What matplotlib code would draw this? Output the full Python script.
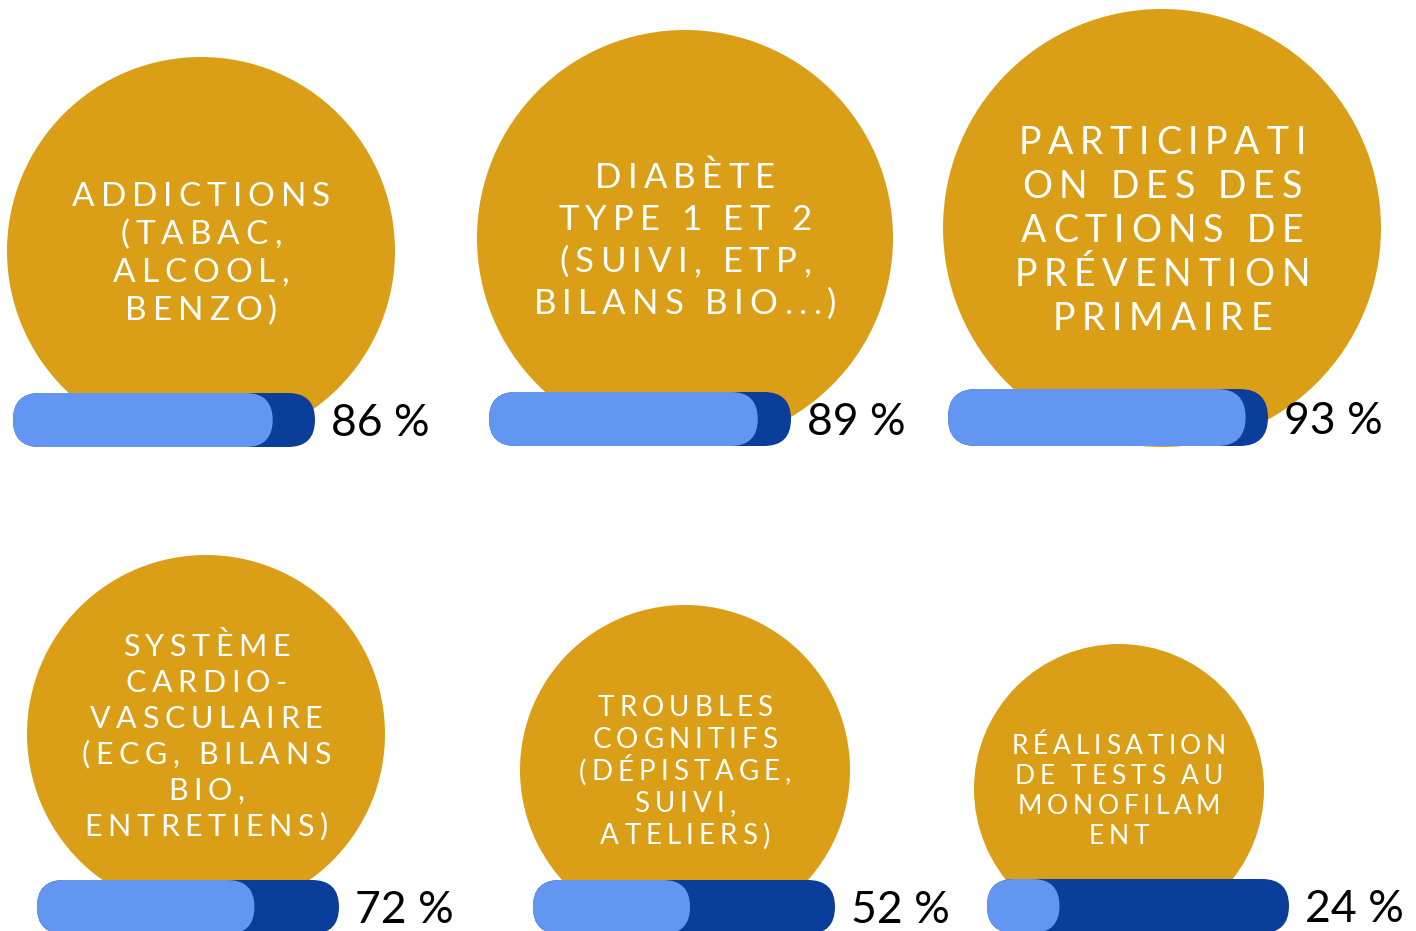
import numpy as np
import matplotlib
matplotlib.use("Agg")
import matplotlib.pyplot as plt
from matplotlib.patches import Circle, FancyBboxPatch
from matplotlib.font_manager import FontProperties
from matplotlib.textpath import TextToPath

# Données
labels = [
    "ADDICTIONS\n(TABAC,\nALCOOL,\nBENZO)",
    "DIABÈTE\nTYPE 1 ET 2\n(SUIVI, ETP,\nBILANS BIO...)",
    "PARTICIPATI\nON DES DES\nACTIONS DE\nPRÉVENTION\nPRIMAIRE",
    "SYSTÈME\nCARDIO-\nVASCULAIRE\n(ECG, BILANS\nBIO,\nENTRETIENS)",
    "TROUBLES\nCOGNITIFS\n(DÉPISTAGE,\nSUIVI,\nATELIERS)",
    "RÉALISATION\nDE TESTS AU\nMONOFILAM\nENT",
]
values = [86, 89, 93, 72, 52, 24]

# Mise en page (pixels)
circ_x = [201, 685, 1162, 206, 685, 1119]
circ_y = [251, 238, 228, 734, 770, 789]
circ_r = [194, 208, 219, 179, 165, 145]
bar_x = [13, 489, 948, 37, 533, 987]
bar_y = [393, 392, 389, 880, 880, 879]
bar_w = [302, 302, 320, 302, 302, 302]
bar_h = [54, 54, 57, 54, 54, 54]
txt_size = [24, 25, 27, 22, 20, 19]
txt_pitch = [38, 42, 44, 36, 32, 30]

GOLD = "#DA9E17"
DARK = "#0A3E9A"
LIGHT = "#6396F1"

W, H = 1416, 931
fig = plt.figure(figsize=(W / 100, H / 100), dpi=100)
ax = fig.add_axes([0, 0, 1, 1])
ax.set_xlim(0, W)
ax.set_ylim(H, 0)
ax.axis("off")

ttp = TextToPath()
PX = 100 / 72


def advance(c, prop):
    # largeur d'avance d'un caractère en pixels
    w1 = ttp.get_text_width_height_descent("|" + c + "|", prop, ismath=False)[0]
    w0 = ttp.get_text_width_height_descent("||", prop, ismath=False)[0]
    return (w1 - w0) * PX


def spaced_line(x, y, s, size, track):
    prop = FontProperties(family="Lato", size=size)
    adv = [advance(c, prop) for c in s]
    sp = track * size * PX
    total = sum(adv) + sp * (len(s) - 1)
    cur = x - total / 2
    for c, a in zip(s, adv):
        ax.text(cur + a / 2, y, c, ha="center", va="center_baseline",
                fontproperties=prop, color="white")
        cur += a + sp


for i in range(len(values)):
    ax.add_patch(Circle((circ_x[i], circ_y[i]), circ_r[i], color=GOLD, lw=0))

    lines = labels[i].split("\n")
    y0 = circ_y[i] - txt_pitch[i] * (len(lines) - 1) / 2
    for k, line in enumerate(lines):
        spaced_line(circ_x[i], y0 + k * txt_pitch[i], line, txt_size[i], 0.18)

    h = bar_h[i]
    ax.add_patch(FancyBboxPatch((bar_x[i], bar_y[i]), bar_w[i], h,
                                boxstyle="round,pad=0,rounding_size=%g" % (h / 2),
                                color=DARK, lw=0, mutation_aspect=1))
    fw = bar_w[i] * values[i] / 100
    ax.add_patch(FancyBboxPatch((bar_x[i], bar_y[i]), fw, h,
                                boxstyle="round,pad=0,rounding_size=%g" % (h / 2),
                                color=LIGHT, lw=0, mutation_aspect=1))

    ax.text(bar_x[i] + bar_w[i] + 16, bar_y[i] + h / 2 + 16, "%d %%" % values[i],
            ha="left", va="baseline", fontsize=32, family="Lato",
            color="black")

fig.savefig("out.png", dpi=100)
